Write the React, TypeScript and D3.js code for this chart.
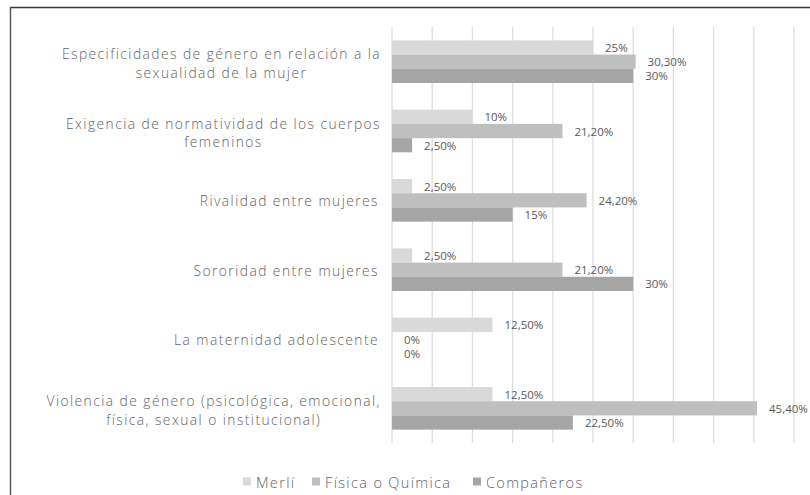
import React from "react";
import * as d3 from "d3";

const categories: string[][] = [
  ["Especificidades de género en relación a la", "sexualidad de la mujer"],
  ["Exigencia de normatividad de los cuerpos", "femeninos"],
  ["Rivalidad entre mujeres"],
  ["Sororidad entre mujeres"],
  ["La maternidad adolescente"],
  ["Violencia de género (psicológica, emocional,", "física, sexual o institucional)"],
];
const seriesNames = ["Merlí", "Física o Química", "Compañeros"];
const merli = [25, 10, 2.5, 2.5, 12.5, 12.5];
const fisica = [30.3, 21.2, 24.2, 21.2, 0, 45.4];
const companeros = [30, 2.5, 15, 30, 0, 22.5];
const valueLabels: string[][] = [
  ["25%", "10%", "2,50%", "2,50%", "12,50%", "12,50%"],
  ["30,30%", "21,20%", "24,20%", "21,20%", "0%", "45,40%"],
  ["30%", "2,50%", "15%", "30%", "0%", "22,50%"],
];
const ticks = d3.range(0, 55, 5);

const colors = ["#d9d9d9", "#bfbfbf", "#a5a5a5"];
const W = 810, H = 495;
const catFont = "'Open Sans', sans-serif";

export default function App() {
  const series = [merli, fisica, companeros];
  const x = d3.scaleLinear().domain([0, 50]).range([392, 794]);
  const idx = categories.map((_, i) => String(i));
  const y = d3.scaleBand().domain(idx).range([27, 443]).paddingInner(0.385).paddingOuter(0.1925);
  const ySub = d3.scaleBand().domain(["0", "1", "2"]).range([0, y.bandwidth()]);
  const legendX = [243, 312, 473];
  const rightEdge = 381;
  return (
    <svg width={W} height={H} style={{ position: "absolute", left: 0, top: 0, background: "#fff" }}>
      <rect x={0} y={0} width={W} height={H} fill="#fff" />
      <line x1={10} x2={W} y1={7.5} y2={7.5} stroke="#3a3a3a" strokeWidth={1.5} />
      <line x1={10.5} x2={10.5} y1={7} y2={H} stroke="#5a5a5a" strokeWidth={1.5} />
      {ticks.map((t) => (
        <line key={t} x1={x(t)} x2={x(t)} y1={27} y2={443} stroke="#dedede" strokeWidth={1.3} />
      ))}
      {series.map((s, si) =>
        s.map((v, ci) => {
          const yy = (y(String(ci)) as number) + (ySub(String(si)) as number);
          return (
            <g key={si + "-" + ci}>
              {v > 0 && (
                <rect x={x(0)} y={yy} width={x(v) - x(0)} height={ySub.bandwidth()} fill={colors[si]} />
              )}
              <text
                x={x(v) + 12}
                y={yy + ySub.bandwidth() / 2}
                dominantBaseline="central"
                fontFamily="'Open Sans', sans-serif"
                fontSize={11.5}
                fill="#595959"
              >
                {valueLabels[si][ci]}
              </text>
            </g>
          );
        })
      )}
      {categories.map((lines, ci) => {
        const cy = (y(String(ci)) as number) + y.bandwidth() / 2;
        const lh = 18.8;
        const multi = lines.length > 1;
        return (
          <text
            key={ci}
            textAnchor={multi ? "middle" : "end"}
            dominantBaseline="central"
            fontFamily={catFont}
            fontSize={13.8}
            fontWeight={300}
            letterSpacing={1.45}
            fill="#626262"
            ref={(el) => {
              if (el && multi) {
                const spans = Array.from(el.querySelectorAll("tspan")) as SVGTSpanElement[];
                const bw = Math.max(...spans.map((t) => t.getComputedTextLength()));
                spans.forEach((t) => t.setAttribute("x", String(rightEdge - bw / 2)));
              }
            }}
          >
            {lines.map((l, li) => {
              const dy = multi ? 1 + (li - (lines.length - 1) / 2) * lh : 0;
              return (
                <tspan key={li} x={multi ? rightEdge - 160 : rightEdge - 2} y={cy + dy} dominantBaseline="central">
                  {l}
                </tspan>
              );
            })}
          </text>
        );
      })}
      {seriesNames.map((n, i) => (
        <g key={n}>
          <rect x={legendX[i]} y={477.5} width={8} height={8} fill={colors[i]} />
          <text x={legendX[i] + 13} y={482} dominantBaseline="central" fontFamily={catFont} fontSize={14.5} fontWeight={300} letterSpacing={1.35} fill="#626262">
            {n}
          </text>
        </g>
      ))}
    </svg>
  );
}
